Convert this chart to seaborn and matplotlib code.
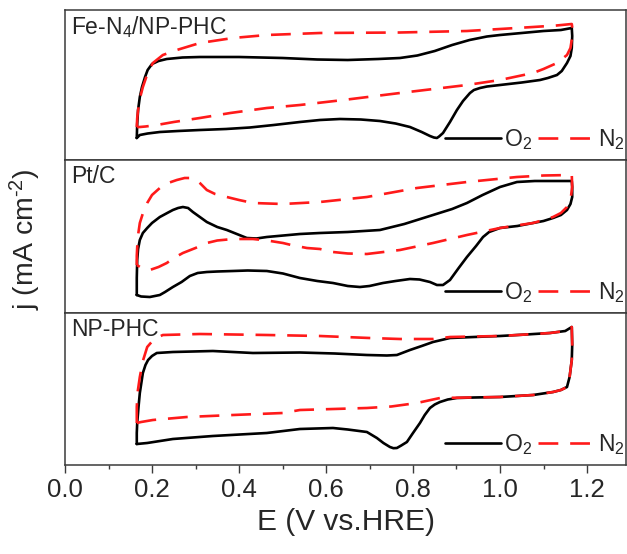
import matplotlib
matplotlib.use("Agg")
import matplotlib.pyplot as plt
from matplotlib.ticker import MultipleLocator
import seaborn as sns

# ---- Cyclic voltammograms (E in V vs. RHE, j in arbitrary current units) ----
# Fe-N4/NP-PHC
fe_o2_E = [0.165, 0.166, 0.168, 0.172, 0.177, 0.184, 0.19, 0.2, 0.215, 0.234, 0.27, 0.31, 0.4, 0.5,
           0.58, 0.65, 0.72, 0.77, 0.81, 0.85, 0.89, 0.93, 0.97, 1.0, 1.05, 1.1, 1.14, 1.165,
           1.166, 1.165, 1.162, 1.154, 1.142, 1.131, 1.11, 1.092, 1.05, 1.0, 0.97, 0.954, 0.94,
           0.931, 0.915, 0.901, 0.885, 0.869, 0.86, 0.855, 0.848, 0.839, 0.82, 0.793, 0.76, 0.724,
           0.68, 0.632, 0.586, 0.54, 0.48, 0.425, 0.37, 0.31, 0.26, 0.218, 0.19, 0.172, 0.165]
fe_o2_j = [2.2, 3.6, 5.0, 6.3, 7.3, 8.3, 9.0, 9.6, 9.9, 10.1, 10.25, 10.3, 10.3, 10.2,
           10.05, 10.0, 10.1, 10.2, 10.45, 10.9, 11.5, 12.0, 12.35, 12.5, 12.7, 12.9, 13.0, 13.2,
           12.4, 11.2, 10.4, 9.7, 8.9, 8.5, 8.2, 8.0, 7.75, 7.5, 7.35, 7.2, 7.0,
           6.7, 5.9, 5.0, 3.8, 2.7, 2.35, 2.2, 2.25, 2.4, 2.8, 3.3, 3.65, 3.9,
           4.05, 4.1, 4.0, 3.8, 3.5, 3.25, 3.1, 3.0, 2.9, 2.8, 2.65, 2.5, 2.2]
fe_n2_E = [0.165, 0.166, 0.168, 0.173, 0.179, 0.19, 0.202, 0.225, 0.257, 0.31, 0.386, 0.464,
           0.586, 0.77, 0.924, 1.0, 1.076, 1.13, 1.165,
           1.166, 1.166, 1.162, 1.154, 1.131, 1.1, 1.076, 1.0, 0.924, 0.77, 0.64, 0.54, 0.464,
           0.38, 0.31, 0.25, 0.211, 0.185, 0.172, 0.165]
fe_n2_j = [3.3, 4.2, 5.0, 6.3, 7.3, 8.7, 9.7, 10.5, 11.0, 11.7, 12.2, 12.5,
           12.7, 12.75, 12.9, 13.1, 13.3, 13.45, 13.6,
           13.3, 12.3, 11.2, 10.5, 9.7, 9.1, 8.7, 8.0, 7.5, 6.7, 6.0, 5.5, 5.2,
           4.7, 4.2, 3.8, 3.5, 3.35, 3.3, 3.3]

# Pt/C
pt_o2_E = [0.165, 0.165, 0.166, 0.168, 0.172, 0.179, 0.189, 0.2, 0.218, 0.235, 0.248, 0.26,
           0.271, 0.283, 0.294, 0.31, 0.326, 0.35, 0.372, 0.395, 0.418, 0.44, 0.464, 0.54,
           0.586, 0.65, 0.724, 0.78, 0.846, 0.89, 0.924, 0.96, 1.0, 1.039, 1.08, 1.12, 1.165,
           1.166, 1.166, 1.162, 1.154, 1.14, 1.122, 1.1, 1.076, 1.04, 1.0, 0.975, 0.961, 0.945,
           0.924, 0.905, 0.885, 0.869, 0.855, 0.839, 0.815, 0.793, 0.76, 0.731, 0.7, 0.678,
           0.65, 0.616, 0.58, 0.54, 0.501, 0.464, 0.42, 0.386, 0.35, 0.326, 0.305, 0.287,
           0.268, 0.248, 0.23, 0.218, 0.195, 0.175, 0.165]
pt_o2_j = [1.8, 3.5, 5.3, 6.4, 7.3, 8.0, 8.5, 9.0, 9.6, 10.0, 10.3, 10.5,
           10.6, 10.5, 10.1, 9.6, 9.1, 8.6, 8.3, 7.9, 7.5, 7.45, 7.6, 7.9,
           8.0, 8.1, 8.3, 8.9, 9.8, 10.4, 11.0, 11.8, 12.6, 13.1, 13.2, 13.2, 13.2,
           12.6, 11.6, 10.9, 10.3, 9.8, 9.5, 9.2, 9.0, 8.7, 8.5, 8.1, 7.6, 6.7,
           5.6, 4.5, 3.3, 2.8, 2.8, 3.1, 3.35, 3.4, 3.2, 3.0, 2.7, 2.6,
           2.7, 3.0, 3.2, 3.5, 3.95, 4.2, 4.25, 4.2, 4.15, 4.1, 4.0, 3.7,
           3.1, 2.6, 2.1, 1.8, 1.6, 1.65, 1.8]
pt_n2_E = [0.165, 0.165, 0.166, 0.168, 0.172, 0.18, 0.189, 0.2, 0.218, 0.237, 0.257, 0.275,
           0.292, 0.302, 0.31, 0.326, 0.345, 0.372, 0.4, 0.432, 0.501, 0.586, 0.694, 0.809,
           0.924, 1.039, 1.1, 1.165,
           1.166, 1.163, 1.154, 1.14, 1.122, 1.1, 1.076, 1.0, 0.924, 0.846, 0.77, 0.694, 0.65,
           0.616, 0.586, 0.556, 0.52, 0.501, 0.465, 0.432, 0.386, 0.35, 0.326, 0.3, 0.271,
           0.25, 0.234, 0.215, 0.195, 0.18, 0.165]
pt_n2_j = [4.8, 5.7, 6.6, 7.8, 9.0, 10.1, 11.0, 11.8, 12.5, 13.0, 13.3, 13.5,
           13.5, 13.3, 13.0, 12.3, 11.9, 11.6, 11.3, 11.0, 10.9, 11.1, 11.6, 12.5,
           13.1, 13.6, 13.75, 13.8,
           12.6, 11.6, 10.6, 10.0, 9.6, 9.3, 9.0, 8.5, 7.8, 7.0, 6.3, 5.9, 5.95,
           6.1, 6.4, 6.5, 6.8, 7.0, 7.25, 7.4, 7.4, 7.25, 7.0, 6.5, 6.0,
           5.5, 5.0, 4.6, 4.3, 4.4, 4.8]

# NP-PHC
np_o2_E = [0.165, 0.165, 0.166, 0.169, 0.172, 0.179, 0.185, 0.191, 0.2, 0.211, 0.248, 0.34,
           0.432, 0.54, 0.62, 0.694, 0.74, 0.763, 0.793, 0.82, 0.846, 0.885, 0.94, 1.0, 1.06,
           1.115, 1.15, 1.165,
           1.166, 1.165, 1.16, 1.154, 1.14, 1.122, 1.076, 1.0, 0.94, 0.901, 0.88, 0.862, 0.85,
           0.839, 0.827, 0.816, 0.8, 0.786, 0.773, 0.763, 0.755, 0.747, 0.732, 0.717, 0.694,
           0.65, 0.616, 0.54, 0.464, 0.34, 0.248, 0.189, 0.165]
np_o2_j = [2.1, 3.2, 4.2, 5.8, 7.2, 9.2, 10.0, 10.5, 10.9, 11.2, 11.3, 11.4,
           11.2, 11.25, 11.15, 11.0, 10.95, 11.0, 11.5, 11.9, 12.3, 12.7, 12.8, 12.9, 13.05,
           13.2, 13.4, 13.8,
           12.0, 10.5, 8.8, 7.8, 7.5, 7.3, 7.0, 6.8, 6.75, 6.7, 6.55, 6.3, 6.05,
           5.7, 5.0, 4.2, 3.2, 2.3, 1.95, 1.7, 1.68, 1.8, 2.2, 2.7, 3.3,
           3.55, 3.7, 3.6, 3.2, 2.9, 2.6, 2.2, 2.1]
np_n2_E = [0.165, 0.165, 0.167, 0.172, 0.179, 0.189, 0.205, 0.225, 0.31, 0.464, 0.586, 0.7,
           0.77, 0.846, 0.885, 1.0, 1.06, 1.115, 1.15, 1.165,
           1.166, 1.165, 1.16, 1.154, 1.14, 1.122, 1.076, 1.0, 0.93, 0.862, 0.809, 0.75, 0.694,
           0.54, 0.501, 0.386, 0.28, 0.202, 0.175, 0.165]
np_n2_j = [4.2, 5.8, 7.3, 8.8, 10.4, 11.8, 12.6, 13.0, 13.1, 13.0, 12.9, 12.7,
           12.6, 12.6, 12.8, 12.9, 13.05, 13.2, 13.4, 13.8,
           12.0, 10.5, 8.8, 7.8, 7.5, 7.3, 7.0, 6.8, 6.75, 6.7, 6.2, 5.85, 5.7,
           5.5, 5.2, 5.0, 4.8, 4.5, 4.3, 4.2]

panel_names = ["Fe-N$_4$/NP-PHC", "Pt/C", "NP-PHC"]
gas_labels = ["O$_2$", "N$_2$"]
x_ticks = [0.0, 0.2, 0.4, 0.6, 0.8, 1.0, 1.2]

panels = [
    (fe_o2_E, fe_o2_j, fe_n2_E, fe_n2_j, 15.0),
    (pt_o2_E, pt_o2_j, pt_n2_E, pt_n2_j, 15.3),
    (np_o2_E, np_o2_j, np_n2_E, np_n2_j, 15.2),
]

sns.set_style("ticks")
plt.rcParams["font.family"] = ["Liberation Sans", "DejaVu Sans"]
plt.rcParams["mathtext.fontset"] = "custom"
plt.rcParams["mathtext.rm"] = "Liberation Sans"
plt.rcParams["mathtext.it"] = "Liberation Sans:italic"

W, H = 627, 554
fig = plt.figure(figsize=(W / 100, H / 100), dpi=100)

left = 65 / W
width = 1.29 * 435 / W
bounds = [(10, 160), (160, 313), (313, 465)]
axes = []
for top, bottom in bounds:
    axes.append(fig.add_axes([left, 1 - bottom / H, width, (bottom - top) / H]))

spine_col = "#3a3a3a"
dash = (0, (7.5, 4.5))

for i, (ax, (oE, oj, nE, nj, ytop)) in enumerate(zip(axes, panels)):
    sns.lineplot(x=oE, y=oj, sort=False, estimator=None, ax=ax, color="black",
                 linewidth=1.9, label=gas_labels[0])
    sns.lineplot(x=nE, y=nj, sort=False, estimator=None, ax=ax, color="#ff1a1a",
                 linewidth=1.9, linestyle=dash, label=gas_labels[1])
    ax.set_xlim(0, 1.29)
    ax.set_ylim(0, ytop)
    ax.set_yticks([])
    ax.set_ylabel("")
    for s in ax.spines.values():
        s.set_visible(True)
        s.set_linewidth(1.1)
        s.set_color(spine_col)
    ax.text(0.0115, 0.97, panel_names[i], transform=ax.transAxes, ha="left", va="top",
            fontsize=16.5)
    ax.legend(loc="lower right", bbox_to_anchor=(1.011, 0.0), ncol=2, frameon=False,
              fontsize=16.5, handlelength=2.45, handletextpad=0.15, columnspacing=0.25,
              borderaxespad=0.15, borderpad=0.2)
    ax.xaxis.set_major_locator(MultipleLocator(0.2))
    ax.xaxis.set_minor_locator(MultipleLocator(0.1))
    if i < 2:
        ax.tick_params(axis="x", which="both", bottom=False, labelbottom=False)
    else:
        ax.set_xticks(x_ticks)
        ax.set_xticklabels([f"{t:.1f}" for t in x_ticks])
        ax.tick_params(axis="x", which="major", direction="out", length=5.5, width=1.0,
                       color=spine_col, labelsize=18.5, pad=4)
        ax.tick_params(axis="x", which="minor", direction="out", length=3, width=1.0,
                       color=spine_col)
        ax.set_xlabel("E (V vs.HRE)", fontsize=21.5, labelpad=4)

fig.text(0.040, 0.568, "j (mA cm$^{\\text{-}2}$)", rotation=90, ha="center", va="center",
         fontsize=20.5)

fig.savefig("out.png", dpi=100)
